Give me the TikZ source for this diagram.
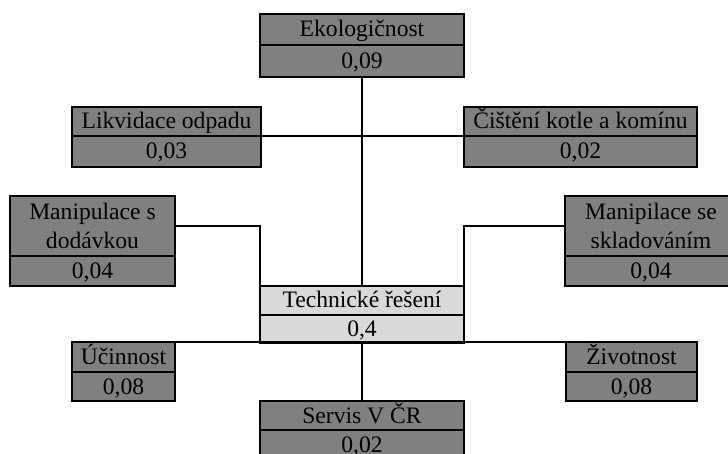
\documentclass[tikz,border=0pt]{standalone}
\usepackage{fontspec}
\setmainfont{Liberation Serif}
\definecolor{cellgray}{RGB}{128,128,128}
\definecolor{celllight}{RGB}{217,217,217}
\begin{document}
\begin{tikzpicture}[x=1pt,y=-1pt,
  cell/.style={draw=black, line width=1.8pt, fill=cellgray, anchor=north west,
    inner sep=0pt, outer sep=0pt, font=\fontsize{23.6}{28.5}\selectfont,
    text height=17pt, text depth=2pt},
  cell2/.style={draw=black, line width=1.8pt, fill=cellgray, anchor=north west,
    inner sep=0pt, outer sep=0pt, font=\fontsize{23.6}{29}\selectfont, align=center},
  link/.style={draw=black, line width=1.8pt}]
\useasboundingbox (0,0) rectangle (728,454);
\clip (0,0) rectangle (728,454);
% boxes
\node[cell, minimum width=204pt, minimum height=31pt] (eko) at (260,14) {Ekologičnost};
\node[cell, minimum width=204pt, minimum height=32pt] (ekov) at (260,45) {0,09};
\node[cell, minimum width=189pt, minimum height=29pt] (lik) at (72,107) {Likvidace odpadu};
\node[cell, minimum width=189pt, minimum height=31pt] (likv) at (72,136) {0,03};
\node[cell, minimum width=233pt, minimum height=29pt] (cis) at (464,107) {Čištění kotle a komínu};
\node[cell, minimum width=233pt, minimum height=31pt] (cisv) at (464,136) {0,02};
\node[cell2, minimum width=165pt, minimum height=60pt] (mand) at (10,196) {Manipulace s\\dodávkou};
\node[cell, minimum width=165pt, minimum height=30pt] (mandv) at (10,256) {0,04};
\node[cell2, minimum width=172pt, minimum height=60pt] (mans) at (565,196) {Manipilace se\\skladováním};
\node[cell, minimum width=172pt, minimum height=30pt] (mansv) at (565,256) {0,04};
\node[cell, fill=celllight, minimum width=204pt, minimum height=29pt] (tech) at (260,286) {Technické řešení};
\node[cell, fill=celllight, minimum width=204pt, minimum height=28pt] (techv) at (260,315) {0,4};
\node[cell, minimum width=103pt, minimum height=30pt] (uc) at (72,342) {Účinnost};
\node[cell, minimum width=103pt, minimum height=29pt] (ucv) at (72,372) {0,08};
\node[cell, minimum width=131pt, minimum height=30pt] (ziv) at (566,342) {Životnost};
\node[cell, minimum width=131pt, minimum height=29pt] (zivv) at (566,372) {0,08};
\node[cell, minimum width=204pt, minimum height=29pt] (ser) at (260,401) {Servis V ČR};
\node[cell, minimum width=204pt, minimum height=30pt] (serv) at (260,430) {0,02};
% connectors
\draw[link] (ekov.south) -- (tech.north);
\draw[link] (likv.north east) -- (cisv.north west);
\draw[link] (mand.east) -| (tech.north west);
\draw[link] (mans.west) -| (tech.north east);
\draw[link] (uc.north west) -- (ziv.north east);
\draw[link] (techv.south) -- (ser.north);
\end{tikzpicture}
\end{document}
